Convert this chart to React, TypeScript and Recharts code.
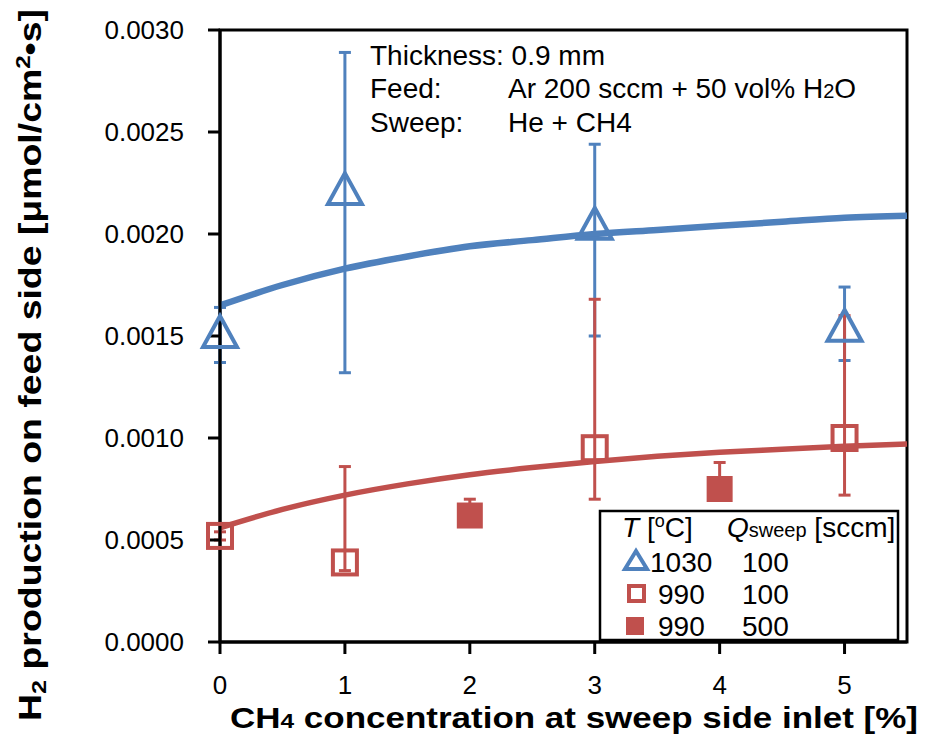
import React from 'react';
import { ComposedChart, Line, Scatter, XAxis, YAxis, ErrorBar, ReferenceArea, Customized } from 'recharts';

// ---- data ----
const xTicks = [0, 1, 2, 3, 4, 5];
const yTicks = [0, 0.0005, 0.001, 0.0015, 0.002, 0.0025, 0.003];

const x1030 = [0, 1, 3, 5];
const y1030 = [0.00152, 0.00222, 0.00205, 0.00155];
const err1030: [number, number][] = [[0.00015, 0.00012], [0.0009, 0.00067], [0.00055, 0.00039], [0.00017, 0.00019]];

const x990a = [0, 1, 3, 5];
const y990a = [0.00052, 0.00039, 0.00095, 0.001];
const err990a: [number, number][] = [[0.00002, 0.00002], [0.00004, 0.00047], [0.00025, 0.00073], [0.00028, 0.0006]];

const x990b = [2, 4];
const y990b = [0.00062, 0.00075];
const err990b: [number, number][] = [[0.00004, 0.00008], [0.00004, 0.00013]];

const fitX = [0, 0.5, 1, 1.5, 2, 2.5, 3, 3.5, 4, 4.5, 5, 5.5];
const fit1030 = [0.00165, 0.00175, 0.00183, 0.00189, 0.00194, 0.00197, 0.002, 0.00202, 0.00204, 0.00206, 0.00208, 0.00209];
const fit990 = [0.00056, 0.00065, 0.00072, 0.000775, 0.00082, 0.000855, 0.000885, 0.00091, 0.00093, 0.000945, 0.00096, 0.00097];

const BLUE = '#4F81BD';
const RED = '#C0504D';
const FONT = '"Liberation Sans", Arial, sans-serif';

const d1030 = x1030.map((x, i) => ({ x, y: y1030[i], err: err1030[i] }));
const d990a = x990a.map((x, i) => ({ x, y: y990a[i], err: err990a[i] }));
const d990b = x990b.map((x, i) => ({ x, y: y990b[i], err: err990b[i] }));
const dFit1030 = fitX.map((x, i) => ({ x, y: fit1030[i] }));
const dFit990 = fitX.map((x, i) => ({ x, y: fit990[i] }));

const TriShape = (p: any) => {
  const { cx, cy } = p;
  return <path d={`M${cx},${cy - 16} L${cx + 17},${cy + 15} L${cx - 17},${cy + 15} Z`} fill="none" stroke={BLUE} strokeWidth={4} strokeLinejoin="miter" />;
};
const OpenSq = (p: any) => {
  const { cx, cy } = p;
  return <rect x={cx - 12} y={cy - 12} width={24} height={24} fill="none" stroke={RED} strokeWidth={4} />;
};
const FillSq = (p: any) => {
  const { cx, cy } = p;
  return <rect x={cx - 13} y={cy - 13} width={26} height={26} fill={RED} stroke="none" />;
};

const Overlay = () => (
  <g fontFamily={FONT} fill="#000">
    {/* annotation */}
    <text x={362} y={57} fontSize={28}>Thickness: 0.9 mm</text>
    <text x={362} y={90} fontSize={28}>Feed:</text>
    <text x={500} y={90} fontSize={28}>Ar 200 sccm + 50 vol% H<tspan fontSize={20}>2</tspan>O</text>
    <text x={362} y={124} fontSize={28}>Sweep:</text>
    <text x={500} y={124} fontSize={28}>He + CH4</text>
    {/* legend */}
    <rect x={592} y={503} width={298} height={129} fill="#fff" stroke="#000" strokeWidth={2.5} />
    <text x={614} y={529} fontSize={28}><tspan fontStyle="italic">T</tspan> [<tspan fontSize={18} dy={-10}>o</tspan><tspan dy={10}>C]</tspan></text>
    <text x={719} y={529} fontSize={28}><tspan fontStyle="italic">Q</tspan><tspan fontSize={20}>sweep</tspan> [sccm]</text>
    <path d="M628,543 L639,561 L617,561 Z" fill="none" stroke={BLUE} strokeWidth={4} />
    <text x={642} y={564} fontSize={28}>1030</text>
    <text x={734} y={564} fontSize={28}>100</text>
    <rect x={621} y={578} width={15} height={15} fill="none" stroke={RED} strokeWidth={4} />
    <text x={650} y={596} fontSize={28}>990</text>
    <text x={734} y={596} fontSize={28}>100</text>
    <rect x={618} y={609} width={18} height={18} fill={RED} />
    <text x={650} y={628} fontSize={28}>990</text>
    <text x={734} y={628} fontSize={28}>500</text>
    {/* axis titles */}
    <text x={566} y={720} fontSize={30} fontWeight="bold" textAnchor="middle" textLength={688} lengthAdjust="spacingAndGlyphs">
      CH<tspan fontSize={21}>4</tspan> concentration at sweep side inlet [%]
    </text>
    <text transform="translate(33,357) rotate(-90)" fontSize={31} fontWeight="bold" textAnchor="middle" textLength={712} lengthAdjust="spacingAndGlyphs">
      H<tspan fontSize={21} dy={5}>2</tspan><tspan dy={-5}> production on feed side [μmol/cm</tspan><tspan fontSize={20} dy={-11}>2</tspan><tspan dy={11}>•s]</tspan>
    </text>
  </g>
);

export default function App() {
  return (
    <ComposedChart width={919} height={729} margin={{ top: 22, right: 20, bottom: 0, left: 0 }}>
      <XAxis
        type="number"
        dataKey="x"
        domain={[0, 5.5]}
        ticks={xTicks}
        height={95}
        tickSize={12}
        tickMargin={22}
        axisLine={{ stroke: '#000', strokeWidth: 3 }}
        tickLine={{ stroke: '#000', strokeWidth: 3 }}
        tick={{ fill: '#000', fontSize: 26, fontFamily: FONT }}
      />
      <YAxis
        type="number"
        dataKey="y"
        domain={[0, 0.003]}
        ticks={yTicks}
        width={212}
        tickSize={12}
        tickMargin={24}
        tickFormatter={(v: number) => v.toFixed(4)}
        axisLine={{ stroke: '#000', strokeWidth: 3 }}
        tickLine={{ stroke: '#000', strokeWidth: 3 }}
        tick={{ fill: '#000', fontSize: 26, fontFamily: FONT }}
      />
      <ReferenceArea x1={0} x2={5.5} y1={0} y2={0.003} fill="none" stroke="#000" strokeWidth={3} ifOverflow="visible" />
      <Scatter data={d1030} dataKey="y" shape={TriShape} isAnimationActive={false}>
        <ErrorBar dataKey="err" direction="y" width={6} stroke={BLUE} strokeWidth={3} isAnimationActive={false} />
      </Scatter>
      <Scatter data={d990a} dataKey="y" shape={OpenSq} isAnimationActive={false}>
        <ErrorBar dataKey="err" direction="y" width={6} stroke={RED} strokeWidth={3} isAnimationActive={false} />
      </Scatter>
      <Scatter data={d990b} dataKey="y" shape={FillSq} isAnimationActive={false}>
        <ErrorBar dataKey="err" direction="y" width={6} stroke={RED} strokeWidth={3} isAnimationActive={false} />
      </Scatter>
      <Line data={dFit1030} dataKey="y" type="monotone" stroke={BLUE} strokeWidth={6.5} dot={false} activeDot={false} isAnimationActive={false} />
      <Line data={dFit990} dataKey="y" type="monotone" stroke={RED} strokeWidth={5.5} dot={false} activeDot={false} isAnimationActive={false} />
      <Customized component={Overlay} />
    </ComposedChart>
  );
}
